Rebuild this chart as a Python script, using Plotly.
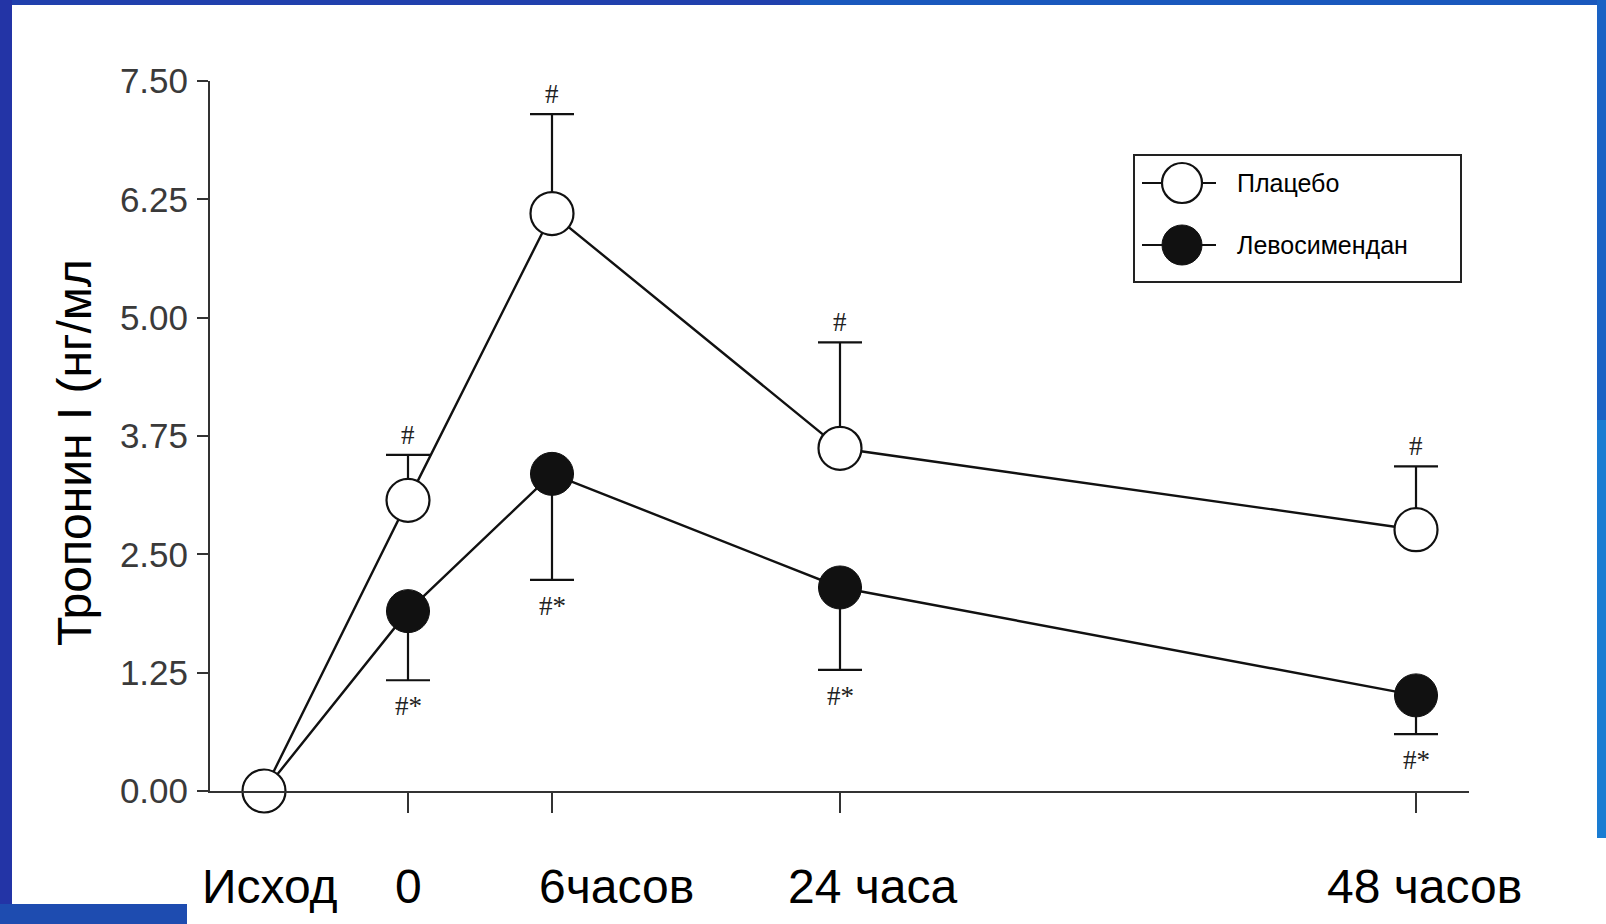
import plotly.graph_objects as go

# ---- data ----
time_labels = ["Исход", "0", "6часов", "24 часа", "48 часов"]
time_pos = [-1, 0, 1, 3, 7]
placebo_mean = [0.0, 3.07, 6.10, 3.62, 2.76]
placebo_err_up = [None, 0.48, 1.05, 1.12, 0.67]
levo_mean = [0.0, 1.90, 3.35, 2.15, 1.01]
levo_err_down = [None, 0.73, 1.12, 0.87, 0.41]
placebo_marks = ["", "#", "#", "#", "#"]
levo_marks = ["", "#*", "#*", "#*", "#*"]
y_ticks = [0.0, 1.25, 2.50, 3.75, 5.00, 6.25, 7.50]
series_names = ["Плацебо", "Левосимендан"]
label_shift_px = [6, 0, 64, 32, 8]

W, H = 1606, 924
L, R, T, B = 210, 137, 81, 133
PW, PH = W - L - R, H - T - B
INK = "#111111"


def px_x(px):
    return (px - L) / PW


def px_y(py):
    return (H - B - py) / PH


fig = go.Figure()

fig.add_trace(go.Scatter(
    x=time_pos, y=levo_mean, name=series_names[1], mode="lines+markers",
    line=dict(color=INK, width=2.4),
    marker=dict(size=43, color=INK, line=dict(color=INK, width=1)),
    error_y=dict(type="data", symmetric=False, array=[0] * len(levo_mean),
                 arrayminus=levo_err_down, color=INK, thickness=2.2, width=22),
    cliponaxis=False, showlegend=False,
))
fig.add_trace(go.Scatter(
    x=time_pos, y=placebo_mean, name=series_names[0], mode="lines+markers",
    line=dict(color=INK, width=2.4),
    marker=dict(size=43, color="white", line=dict(color=INK, width=2.2)),
    error_y=dict(type="data", symmetric=False, array=placebo_err_up,
                 arrayminus=[0] * len(placebo_mean), color=INK, thickness=2.2, width=22),
    cliponaxis=False, showlegend=False,
))

# ---- custom legend (pixel-coordinate overlay axes) ----
legend_rows_y = [183, 245]
legend_styles = [dict(color="white", line=dict(color=INK, width=2.2)),
                 dict(color=INK, line=dict(color=INK, width=1))]
for name, ry, ms in zip(series_names, legend_rows_y, legend_styles):
    fig.add_trace(go.Scatter(
        x=[1142, 1216], y=[ry, ry], mode="lines", line=dict(color=INK, width=2.2),
        xaxis="x2", yaxis="y2", showlegend=False, hoverinfo="skip",
    ))
    fig.add_trace(go.Scatter(
        x=[1182], y=[ry], mode="markers", name=name,
        marker=dict(size=40, **ms),
        xaxis="x2", yaxis="y2", showlegend=False, hoverinfo="skip",
    ))

annotations = []
for name, ry in zip(series_names, legend_rows_y):
    annotations.append(dict(x=1235, y=ry, xref="x2", yref="y2", text=name, showarrow=False,
                            xanchor="left", yanchor="middle",
                            font=dict(family="Liberation Sans", size=25, color="black")))
for xp, m, e, t in zip(time_pos, placebo_mean, placebo_err_up, placebo_marks):
    if t:
        annotations.append(dict(x=xp, y=m + e, text=t, showarrow=False, xref="x", yref="y",
                                yanchor="bottom", yshift=3,
                                font=dict(family="Liberation Serif", size=27, color="#222")))
for xp, m, e, t in zip(time_pos, levo_mean, levo_err_down, levo_marks):
    if t:
        annotations.append(dict(x=xp, y=m - e, text=t, showarrow=False, xref="x", yref="y",
                                yanchor="top", yshift=-9,
                                font=dict(family="Liberation Serif", size=27, color="#222")))
for xp, t, s in zip(time_pos, time_labels, label_shift_px):
    annotations.append(dict(x=xp, y=px_y(886), text=t, showarrow=False, xref="x", yref="paper",
                            xanchor="center", yanchor="middle", xshift=s,
                            font=dict(family="Liberation Sans", size=48, color="black")))
annotations.append(dict(x=px_x(74), y=px_y(453), text="Тропонин I (нг/мл", showarrow=False,
                        xref="paper", yref="paper", textangle=-90,
                        xanchor="center", yanchor="middle",
                        font=dict(family="Liberation Sans", size=48, color="black")))

blue_rects = [
    (0, 0, 800, 5, "#2140ad"),
    (800, 0, 1606, 5, "#1a58bd"),
    (0, 0, 12, 904, "#2334a6"),
    (0, 904, 187, 924, "#1e4cb0"),
    (1597, 0, 1606, 420, "#1a62c4"),
    (1597, 420, 1606, 838, "#1a7cd2"),
]
shapes = [dict(type="rect", xref="paper", yref="paper",
               x0=px_x(a), x1=px_x(c), y0=px_y(d), y1=px_y(b),
               fillcolor=col, line=dict(width=0), layer="above")
          for a, b, c, d, col in blue_rects]
# legend frame
shapes.append(dict(type="rect", xref="x2", yref="y2", x0=1134, x1=1461, y0=155, y1=282,
                   line=dict(color="#222", width=2), fillcolor="rgba(0,0,0,0)", layer="below"))

fig.update_layout(
    width=W, height=H,
    margin=dict(l=L, r=R, t=T, b=B),
    paper_bgcolor="white", plot_bgcolor="white",
    font=dict(family="Liberation Sans", color="#333"),
    showlegend=False,
    xaxis=dict(range=[-1.375, 7.368], showgrid=False, zeroline=False,
               showline=True, linecolor="#333", linewidth=2,
               tickvals=[0, 1, 3, 7], ticktext=["", "", "", ""],
               ticks="outside", ticklen=20, tickwidth=2, tickcolor="#333"),
    yaxis=dict(range=[0, 7.5], showgrid=False, zeroline=False,
               showline=True, linecolor="#333", linewidth=2,
               tickvals=y_ticks, tickformat=".2f",
               ticks="outside", ticklen=11, tickwidth=2, tickcolor="#333",
               tickfont=dict(family="Liberation Sans", size=35, color="#3a3a3a"),
               ticklabelstandoff=2),
    xaxis2=dict(overlaying="x", range=[L, W - R], visible=False, fixedrange=True),
    yaxis2=dict(overlaying="y", range=[H - B, T], visible=False, fixedrange=True),
    annotations=annotations,
    shapes=shapes,
)

fig.write_html("out.html", config={"displayModeBar": False},
               post_script="document.body.style.margin='0px';")
